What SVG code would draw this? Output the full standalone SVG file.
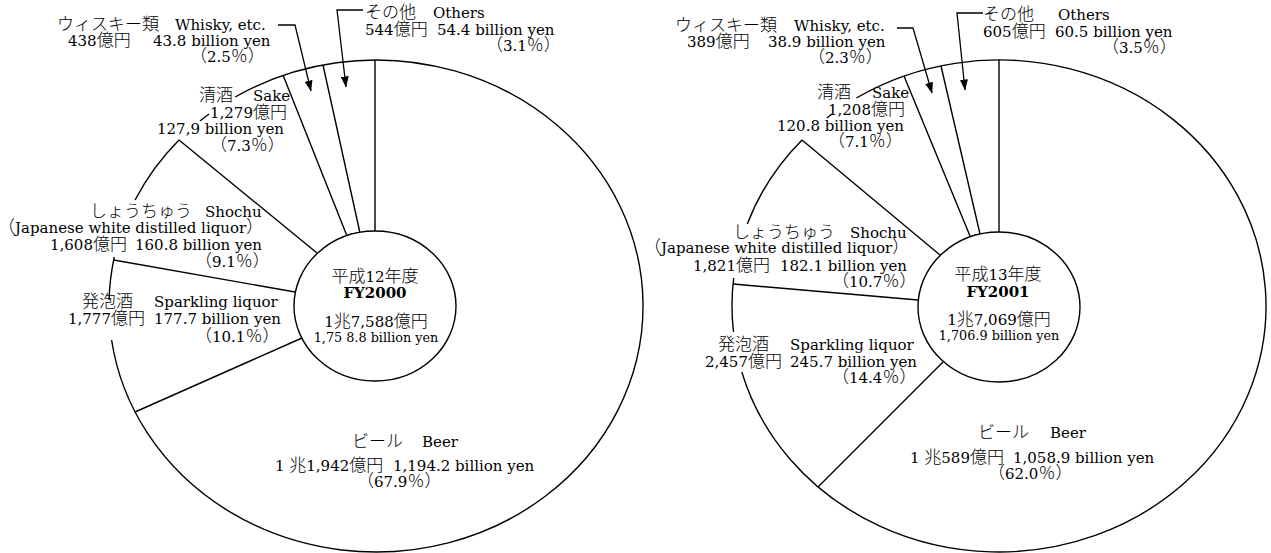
<svg xmlns="http://www.w3.org/2000/svg" width="1271" height="553" viewBox="0 0 1271 553">
<style>
.t{font-family:"DejaVu Serif","Noto Sans CJK JP",serif;font-size:15px;fill:#000}
.j{font-family:"Noto Sans CJK JP",sans-serif;font-size:17px;font-weight:300}
.s{font-size:12.8px}
.b{font-weight:bold}
.m{text-anchor:middle}
.o{fill:none;stroke:#000;stroke-width:1.4}
.c{fill:#fff;stroke:#000;stroke-width:1.4}
.a{fill:none;stroke:#000;stroke-width:1.3;marker-end:url(#ah)}
</style>
<defs>
<marker id="ah" viewBox="0 0 11 8" refX="10.5" refY="4" markerWidth="11" markerHeight="8" markerUnits="userSpaceOnUse" orient="auto"><path d="M0,0 L11,4 L0,8 z" fill="#000"/></marker>
</defs>
<rect width="1271" height="553" fill="#fff"/>

<g id="pie-fy2000">
<path class="o" d="M235.2 97A267 246 0 1 1 111.6 340M109.1 300A267 246 0 0 1 114.3 257M135.1 200A267 246 0 0 1 179 140M200 121A267 246 0 0 1 209.1 114"/>
<path class="o" d="M375 60V231M323 65L360 233M283 75L347 236M179 140L317 253M113.7 260L295 292M135 412L302 338"/>
<ellipse class="c" cx="375" cy="306" rx="81" ry="75"/>
</g>

<g id="pie-fy2001">
<path class="o" d="M856.4 98A267 246 0 1 1 741.8 372M733.5 332A267 246 0 0 1 733.7 278M747.3 224A267 246 0 0 1 802 140M826.8 118A267 246 0 0 1 832.1 114"/>
<path class="o" d="M999 60V232M941 66L980 234M904 76L970 236M802 140L940 255M733.1 284L918 300M818 487L943 362"/>
<ellipse class="c" cx="999" cy="307" rx="81" ry="75"/>
</g>

<g id="connectors">
<polyline class="a" points="278,25 295,25 311,91"/>
<polyline class="a" points="363,10 337,10 346,87"/>
<polyline class="a" points="897,28 913,28 932,93"/>
<polyline class="a" points="983,13 957,13 965,90"/>
</g>

<g id="center-fy2000">
<text class="t m" x="375" y="281.7"><tspan class="j">平成</tspan>12<tspan class="j">年度</tspan></text>
<text class="t m b" x="375" y="298">FY2000</text>
<text class="t m" x="376" y="326.7">1<tspan class="j">兆</tspan>7,588<tspan class="j">億円</tspan></text>
<text class="t m s" x="376" y="341.7">1,75 8.8 billion yen</text>
</g>

<g id="label-others-2000">
<text class="t" x="365" y="18"><tspan class="j">その他</tspan> <tspan x="433">Others</tspan></text>
<text class="t" x="365" y="34.5">544<tspan class="j">億円</tspan> <tspan x="437">54.4 billion yen</tspan></text>
<text class="t" x="486" y="51"><tspan class="j">（</tspan>3.1<tspan class="j">％）</tspan></text>
</g>

<g id="label-whisky-2000">
<text class="t" x="57" y="30"><tspan class="j">ウィスキー類</tspan> <tspan x="175">Whisky, etc.</tspan></text>
<text class="t" x="68" y="46">438<tspan class="j">億円</tspan> <tspan x="153">43.8 billion yen</tspan></text>
<text class="t" x="190" y="61.5"><tspan class="j">（</tspan>2.5<tspan class="j">％）</tspan></text>
</g>

<g id="label-sake-2000">
<text class="t" x="199" y="100.5"><tspan class="j">清酒</tspan> <tspan x="253">Sake</tspan></text>
<text class="t" x="210" y="118">1,279<tspan class="j">億円</tspan></text>
<text class="t" x="157" y="134">127,9 billion yen</text>
<text class="t" x="210" y="151"><tspan class="j">（</tspan>7.3<tspan class="j">％）</tspan></text>
</g>

<g id="label-shochu-2000">
<text class="t" x="90" y="216.7"><tspan class="j">しょうちゅう</tspan> <tspan x="205">Shochu</tspan></text>
<text class="t" x="-2" y="233.3"><tspan class="j">（</tspan>Japanese white distilled liquor<tspan class="j">）</tspan></text>
<text class="t" x="50" y="250">1,608<tspan class="j">億円</tspan> <tspan x="135">160.8 billion yen</tspan></text>
<text class="t" x="195" y="266.7"><tspan class="j">（</tspan>9.1<tspan class="j">％）</tspan></text>
</g>

<g id="label-sparkling-2000">
<text class="t" x="82" y="306.7"><tspan class="j">発泡酒</tspan> <tspan x="154">Sparkling liquor</tspan></text>
<text class="t" x="68" y="324">1,777<tspan class="j">億円</tspan> <tspan x="154">177.7 billion yen</tspan></text>
<text class="t" x="195" y="341.7"><tspan class="j">（</tspan>10.1<tspan class="j">％）</tspan></text>
</g>

<g id="label-beer-2000">
<text class="t" x="352" y="446.7"><tspan class="j">ビール</tspan> <tspan x="422">Beer</tspan></text>
<text class="t" x="275" y="470.7">1 <tspan class="j">兆</tspan>1,942<tspan class="j">億円</tspan> <tspan x="393">1,194.2 billion yen</tspan></text>
<text class="t" x="357" y="486.5"><tspan class="j">（</tspan>67.9<tspan class="j">％）</tspan></text>
</g>

<g id="center-fy2001">
<text class="t m" x="998" y="280"><tspan class="j">平成</tspan>13<tspan class="j">年度</tspan></text>
<text class="t m b" x="998" y="296.7">FY2001</text>
<text class="t m" x="999" y="325">1<tspan class="j">兆</tspan>7,069<tspan class="j">億円</tspan></text>
<text class="t m s" x="999" y="340">1,706.9 billion yen</text>
</g>

<g id="label-others-2001">
<text class="t" x="983" y="20"><tspan class="j">その他</tspan> <tspan x="1058">Others</tspan></text>
<text class="t" x="983" y="36.5">605<tspan class="j">億円</tspan> <tspan x="1055">60.5 billion yen</tspan></text>
<text class="t" x="1102" y="53"><tspan class="j">（</tspan>3.5<tspan class="j">％）</tspan></text>
</g>

<g id="label-whisky-2001">
<text class="t" x="675" y="30.7"><tspan class="j">ウィスキー類</tspan> <tspan x="794">Whisky, etc.</tspan></text>
<text class="t" x="687" y="46.7">389<tspan class="j">億円</tspan> <tspan x="768">38.9 billion yen</tspan></text>
<text class="t" x="808" y="62.7"><tspan class="j">（</tspan>2.3<tspan class="j">％）</tspan></text>
</g>

<g id="label-sake-2001">
<text class="t" x="817" y="98.3"><tspan class="j">清酒</tspan> <tspan x="872">Sake</tspan></text>
<text class="t" x="828" y="115">1,208<tspan class="j">億円</tspan></text>
<text class="t" x="777" y="130.7">120.8 billion yen</text>
<text class="t" x="828" y="147"><tspan class="j">（</tspan>7.1<tspan class="j">％）</tspan></text>
</g>

<g id="label-shochu-2001">
<text class="t" x="733" y="238.3"><tspan class="j">しょうちゅう</tspan> <tspan x="850">Shochu</tspan></text>
<text class="t" x="644" y="253.3"><tspan class="j">（</tspan>Japanese white distilled liquor<tspan class="j">）</tspan></text>
<text class="t" x="693" y="270.7">1,821<tspan class="j">億円</tspan> <tspan x="780">182.1 billion yen</tspan></text>
<text class="t" x="832" y="287.3"><tspan class="j">（</tspan>10.7<tspan class="j">％）</tspan></text>
</g>

<g id="label-sparkling-2001">
<text class="t" x="718" y="350"><tspan class="j">発泡酒</tspan> <tspan x="790">Sparkling liquor</tspan></text>
<text class="t" x="705" y="366.7">2,457<tspan class="j">億円</tspan> <tspan x="790">245.7 billion yen</tspan></text>
<text class="t" x="832" y="383.3"><tspan class="j">（</tspan>14.4<tspan class="j">％）</tspan></text>
</g>

<g id="label-beer-2001">
<text class="t" x="978" y="438.3"><tspan class="j">ビール</tspan> <tspan x="1050">Beer</tspan></text>
<text class="t" x="910" y="462.7">1 <tspan class="j">兆</tspan>589<tspan class="j">億円</tspan> <tspan x="1013">1,058.9 billion yen</tspan></text>
<text class="t" x="988" y="478.8"><tspan class="j">（</tspan>62.0<tspan class="j">％）</tspan></text>
</g>
</svg>
